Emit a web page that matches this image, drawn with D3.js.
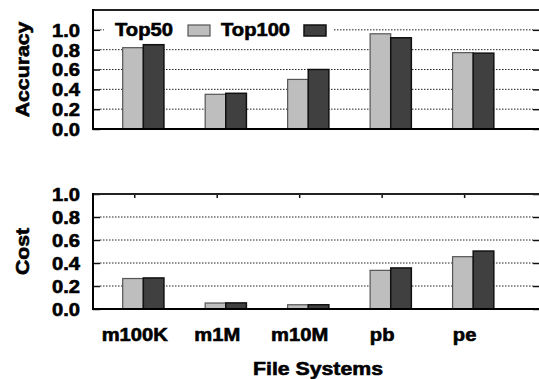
<!DOCTYPE html>
<html>
<head>
<meta charset="utf-8">
<script src="https://cdn.jsdelivr.net/npm/d3@7"></script>
<style>
  body { margin: 0; background: #fff; }
  svg text {
    font-family: "Liberation Sans", Arial, sans-serif;
    font-weight: bold;
    fill: #000;
    stroke: #000;
    stroke-width: 0.6px;
  }
</style>
</head>
<body>
<div class="visHolder"></div>
<script>
// data
const categories = ["m100K", "m1M", "m10M", "pb", "pe"];
const seriesNames = ["Top50", "Top100"];
const accuracyTop50 = [0.82, 0.35, 0.5, 0.96, 0.77];
const accuracyTop100 = [0.85, 0.36, 0.6, 0.92, 0.765];
const costTop50 = [0.265, 0.052, 0.037, 0.336, 0.455];
const costTop100 = [0.27, 0.053, 0.037, 0.357, 0.504];
const yTicks = [0, 0.2, 0.4, 0.6, 0.8, 1.0];

const width = 539;
const height = 379;
const stretch = 1.12; // glyphs in the reference are a bit wide
const fills = ["#bebebe", "#404040"];
const strokes = ["#555", "#111"];

let svg = d3
  .select(".visHolder")
  .append("svg")
  .attr("width", width)
  .attr("height", height);

svg.append("rect").attr("width", width).attr("height", height).attr("fill", "#fff");

let xScale = d3.scaleLinear().domain([-0.5, 4.92]).range([93, 540]);
let unit = xScale(1) - xScale(0);

function boldText(sel) {
  sel
    .attr("font-size", 18)
    .style("font-family", '"Liberation Sans", Arial, sans-serif')
    .style("font-weight", "bold")
    .style("stroke", "#000")
    .style("stroke-width", "0.6px");
}

function drawPanel(opts) {
  let yScale = d3.scaleLinear().domain(opts.domain).range(opts.range);
  let g = svg.append("g");
  let top = opts.range[1];
  let bottom = opts.range[0];

  // dotted grid
  g.selectAll("line.grid")
    .data(yTicks.filter((t) => t > 0 && yScale(t) > top + 1))
    .enter()
    .append("line")
    .attr("class", "grid")
    .attr("x1", xScale.range()[0] + 7)
    .attr("x2", xScale.range()[1] - 7)
    .attr("y1", (d) => yScale(d))
    .attr("y2", (d) => yScale(d))
    .attr("stroke", "#222")
    .attr("stroke-width", 1)
    .attr("stroke-dasharray", "1.5,1.5");

  // bars
  let series = [opts.values[0], opts.values[1]];
  series.forEach(function (vals, s) {
    g.selectAll("rect.s" + s)
      .data(vals)
      .enter()
      .append("rect")
      .attr("class", "s" + s)
      .attr("x", (d, i) => xScale(i - 0.14 + s * 0.25))
      .attr("width", unit * 0.25)
      .attr("y", (d) => yScale(d))
      .attr("height", (d) => bottom - yScale(d))
      .attr("fill", fills[s])
      .attr("stroke", strokes[s])
      .attr("stroke-width", s == 0 ? 1.2 : 1.5);
  });

  // left and right ticks, inside
  let yAxis = d3
    .axisLeft(yScale)
    .tickValues(yTicks)
    .tickFormat(d3.format(".1f"))
    .tickSizeInner(-7)
    .tickSizeOuter(0)
    .tickPadding(13 / stretch);
  let ya = g.append("g").attr("transform", "translate(" + xScale.range()[0] + ",0)").call(yAxis);
  ya.select(".domain").remove();
  ya.selectAll("line").attr("stroke", "#111").attr("stroke-width", 1.5);
  ya.selectAll("text")
    .attr("transform", "scale(" + stretch + ",1)")
    .attr("dy", "0.36em")
    .call(boldText);

  let yAxisR = d3.axisRight(yScale).tickValues(yTicks).tickFormat("").tickSizeInner(-7).tickSizeOuter(0);
  let yr = g.append("g").attr("transform", "translate(" + xScale.range()[1] + ",0)").call(yAxisR);
  yr.select(".domain").remove();
  yr.selectAll("line").attr("stroke", "#111").attr("stroke-width", 1.5);

  if (opts.topTicks) {
    let xTop = d3.axisTop(xScale).tickValues(d3.range(categories.length)).tickFormat("").tickSizeInner(-4).tickSizeOuter(0);
    let xt = g.append("g").attr("transform", "translate(0," + top + ")").call(xTop);
    xt.select(".domain").remove();
    xt.selectAll("line").attr("stroke", "#111").attr("stroke-width", 1.5);
  }

  if (opts.labels) {
    let xAxis = d3
      .axisBottom(xScale)
      .tickValues(d3.range(categories.length))
      .tickFormat((d) => categories[d])
      .tickSize(0)
      .tickPadding(19.5);
    let xa = g.append("g").attr("transform", "translate(0," + bottom + ")").call(xAxis);
    xa.select(".domain").remove();
    xa.selectAll("text")
      .attr("transform", "scale(" + stretch + ",1)")
      .call(boldText);
  }

  // frame
  g.append("line")
    .attr("x1", xScale.range()[0]).attr("x2", xScale.range()[1])
    .attr("y1", top).attr("y2", top)
    .attr("stroke", "#222").attr("stroke-width", 2);
  g.append("line")
    .attr("x1", xScale.range()[0]).attr("x2", xScale.range()[1])
    .attr("y1", bottom).attr("y2", bottom)
    .attr("stroke", "#000").attr("stroke-width", 2.2);
  g.append("line")
    .attr("x1", xScale.range()[0]).attr("x2", xScale.range()[0])
    .attr("y1", top - 1).attr("y2", bottom + 1)
    .attr("stroke", "#000").attr("stroke-width", 2);

  // y title
  svg.append("text")
    .attr("transform", "translate(28.5," + (top + bottom) / 2 + ") rotate(-90) scale(" + stretch + ",1)")
    .attr("text-anchor", "middle")
    .attr("font-size", 19)
    .text(opts.title);

  return g;
}

drawPanel({
  domain: [0, 1.2],
  range: [129, 10],
  values: [accuracyTop50, accuracyTop100],
  title: "Accuracy",
  topTicks: false,
  labels: false
});

drawPanel({
  domain: [0, 1],
  range: [309, 194],
  values: [costTop50, costTop100],
  title: "Cost",
  topTicks: true,
  labels: true
});

// legend
let legend = svg.append("g");
legend.append("rect")
  .attr("x", 104).attr("y", 18).attr("width", 230).attr("height", 22)
  .attr("fill", "#fff");
let legendItems = [
  { name: seriesNames[0], tx: 115, sx: 188 },
  { name: seriesNames[1], tx: 221, sx: 304 }
];
legendItems.forEach(function (item, s) {
  legend.append("text")
    .attr("transform", "translate(" + item.tx + ",36) scale(" + stretch + ",1)")
    .attr("font-size", 18)
    .text(item.name);
  legend.append("rect")
    .attr("x", item.sx).attr("y", 25).attr("width", 22).attr("height", 11)
    .attr("fill", fills[s])
    .attr("stroke", strokes[s])
    .attr("stroke-width", s == 0 ? 1.2 : 1.5);
});

// x title
svg.append("text")
  .attr("transform", "translate(318,375) scale(" + stretch + ",1)")
  .attr("text-anchor", "middle")
  .attr("font-size", 19)
  .text("File Systems");
</script>
</body>
</html>
